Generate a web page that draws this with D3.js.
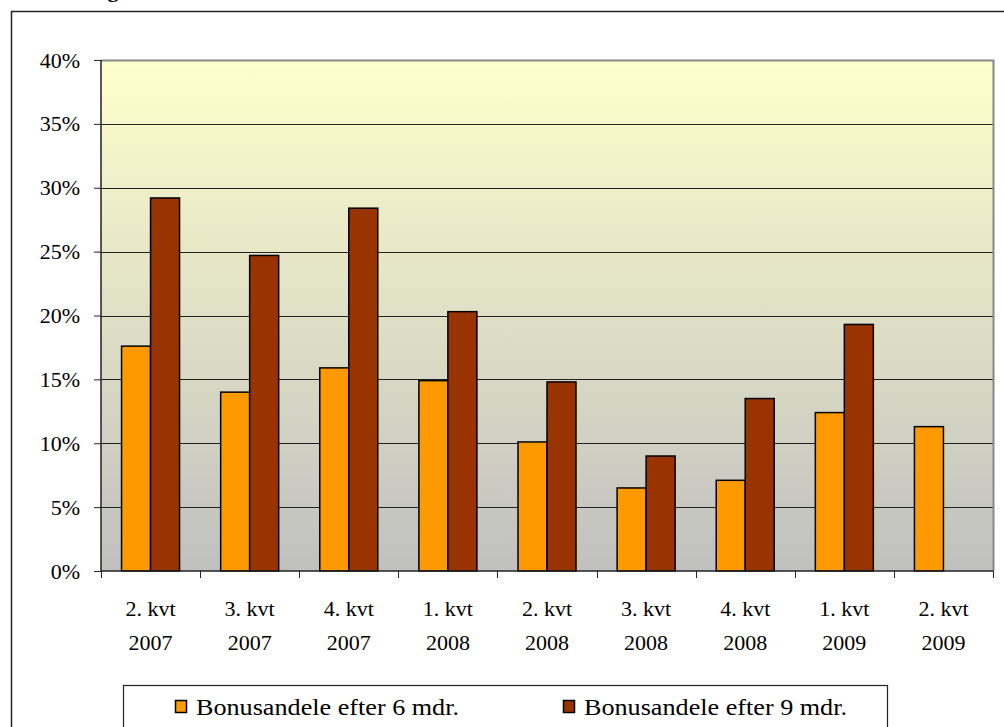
<!DOCTYPE html>
<html>
<head>
<meta charset="utf-8">
<script src="https://cdn.jsdelivr.net/npm/d3@7"></script>
<style>
  body { margin: 0; background: #fff; }
  text { font-family: "Liberation Serif", "Times New Roman", serif; }
</style>
</head>
<body>
<svg width="1004" height="727"></svg>
<script>
// data
var quarters = ["2. kvt", "3. kvt", "4. kvt", "1. kvt", "2. kvt", "3. kvt", "4. kvt", "1. kvt", "2. kvt"];
var years = ["2007", "2007", "2007", "2008", "2008", "2008", "2008", "2009", "2009"];
var after6 = [17.6, 14.0, 15.9, 14.9, 10.1, 6.5, 7.1, 12.4, 11.3];
var after9 = [29.2, 24.7, 28.4, 20.3, 14.8, 9.0, 13.5, 19.3, null];
var seriesNames = ["Bonusandele efter 6 mdr.", "Bonusandele efter 9 mdr."];
var seriesColors = ["#FF9900", "#993300"];
var yTicks = [0, 5, 10, 15, 20, 25, 30, 35, 40];

var svg = d3.select("svg");

// outer chart frame
svg.append("rect")
  .attr("x", 11.5).attr("y", 11.5)
  .attr("width", 1010).attr("height", 730)
  .attr("fill", "none").attr("stroke", "#222").attr("stroke-width", 1.5);

// title, cut off at top
svg.append("text")
  .attr("x", 88).attr("y", -3)
  .attr("font-size", 22).attr("font-weight", "bold")
  .text("Figur");

var pLeft = 101, pTop = 60, pRight = 993, pBottom = 571;

var x = d3.scaleBand()
  .domain(d3.range(quarters.length))
  .range([pLeft, pRight]);

var y = d3.scaleLinear()
  .domain([0, 40])
  .range([pBottom, pTop]);

// background gradient
var grad = svg.append("defs").append("linearGradient")
  .attr("id", "bg").attr("x1", 0).attr("y1", 0).attr("x2", 0).attr("y2", 1);
grad.append("stop").attr("offset", "0%").attr("stop-color", "#FFFFCC");
grad.append("stop").attr("offset", "100%").attr("stop-color", "#C0C0C0");

svg.append("rect")
  .attr("x", pLeft).attr("y", pTop)
  .attr("width", pRight - pLeft).attr("height", pBottom - pTop)
  .attr("fill", "url(#bg)");

// gridlines
svg.append("g")
  .selectAll("line")
  .data(yTicks.slice(1, -1))
  .enter().append("line")
  .attr("x1", pLeft).attr("x2", pRight)
  .attr("y1", d => Math.round(y(d)) + 0.5).attr("y2", d => Math.round(y(d)) + 0.5)
  .attr("stroke", "#222").attr("stroke-width", 1);

// plot border top + right
svg.append("path")
  .attr("d", "M" + pLeft + "," + (pTop + 0.5) + "H" + (pRight + 0.5) + "V" + pBottom)
  .attr("fill", "none").attr("stroke", "#888").attr("stroke-width", 2);

// bars
var bw = 29;
var groups = svg.append("g").selectAll("g")
  .data(quarters.map((q, i) => [after6[i], after9[i]]))
  .enter().append("g")
  .attr("transform", (d, i) => "translate(" + (x(i) + x.bandwidth() / 2) + ",0)");

groups.selectAll("rect")
  .data(d => d.map((v, s) => ({v: v, s: s})).filter(o => o.v != null))
  .enter().append("rect")
  .attr("x", o => o.s === 0 ? -bw : 0)
  .attr("y", o => y(o.v))
  .attr("width", bw)
  .attr("height", o => pBottom - y(o.v))
  .attr("fill", o => seriesColors[o.s])
  .attr("stroke", "#000").attr("stroke-width", 1.5);

// y axis
var yAxis = svg.append("g")
  .attr("transform", "translate(" + pLeft + ",0)")
  .call(d3.axisLeft(y).tickValues(yTicks).tickSize(7).tickPadding(14).tickFormat(d => d + "%"));
yAxis.select(".domain").attr("stroke", "#222").attr("stroke-width", 1.5).attr("d", "M0," + pTop + "V" + pBottom);
yAxis.selectAll(".tick line").attr("stroke", "#222");
yAxis.selectAll(".tick text")
  .attr("font-family", "Liberation Serif").attr("font-size", 22).attr("fill", "#000");

// x axis
var xAxis = svg.append("g")
  .attr("transform", "translate(0," + pBottom + ")");
xAxis.append("line")
  .attr("x1", pLeft).attr("x2", pRight)
  .attr("stroke", "#222").attr("stroke-width", 1.5);
xAxis.selectAll(".xt")
  .data(d3.range(quarters.length + 1))
  .enter().append("line")
  .attr("x1", i => Math.round(i < quarters.length ? x(i) : pRight) + 0.5)
  .attr("x2", i => Math.round(i < quarters.length ? x(i) : pRight) + 0.5)
  .attr("y1", 0).attr("y2", 7)
  .attr("stroke", "#222");

var labels = xAxis.selectAll(".xl")
  .data(quarters)
  .enter().append("text")
  .attr("text-anchor", "middle")
  .attr("font-size", 22)
  .attr("transform", (d, i) => "translate(" + (x(i) + x.bandwidth() / 2) + ",0)");
labels.append("tspan").attr("x", 0).attr("y", 45).text(d => d);
labels.append("tspan").attr("x", 0).attr("y", 79).text((d, i) => years[i]);

// legend
var lg = svg.append("g");
lg.append("rect")
  .attr("x", 123.5).attr("y", 685.5)
  .attr("width", 764).attr("height", 60)
  .attr("fill", "#fff").attr("stroke", "#222").attr("stroke-width", 1.2);

var legX = [175, 563];
seriesNames.forEach(function (n, s) {
  lg.append("rect")
    .attr("x", legX[s] + 0.5).attr("y", 700.5)
    .attr("width", 11).attr("height", 12)
    .attr("fill", seriesColors[s]).attr("stroke", "#000").attr("stroke-width", 1.5);
  lg.append("text")
    .attr("x", legX[s] + 21).attr("y", 715)
    .attr("font-size", 24)
    .attr("textLength", 263).attr("lengthAdjust", "spacingAndGlyphs")
    .text(n);
});
</script>
</body>
</html>
